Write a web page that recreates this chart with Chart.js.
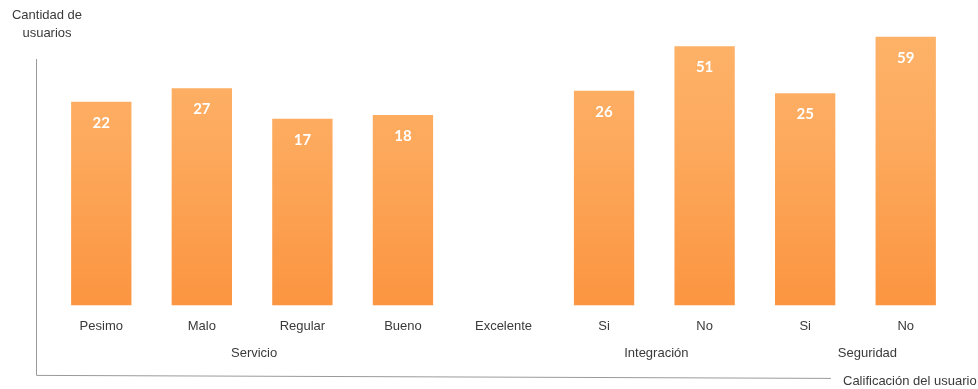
<!DOCTYPE html>
<html>
<head>
<meta charset="utf-8">
<script src="https://cdn.jsdelivr.net/npm/chart.js@4/dist/chart.umd.min.js"></script>
<style>
  html, body { margin: 0; padding: 0; background: #fff; }
  #wrap { width: 978px; height: 389px; position: relative; }
</style>
</head>
<body>
<div id="wrap"><canvas id="c" width="978" height="389"></canvas></div>
<script>
// Ratings per question
const categories = ['Pesimo', 'Malo', 'Regular', 'Bueno', 'Excelente', 'Si', 'No', 'Si', 'No'];
const usuarios   = [22, 27, 17, 18, null, 26, 51, 25, 59];

// Question groups: label and the first/last category index they span
const groupLabels = ['Servicio', 'Integración', 'Seguridad'];
const groupStart  = [0, 5, 7];
const groupEnd    = [3, 6, 8];

const yTitle = ['Cantidad de', 'usuarios'];
const xTitle = 'Calificación del usuario';

const textColor = '#3a3a3a';

function barGradient(ctx) {
  const chart = ctx.chart;
  const area = chart.chartArea;
  if (!area) return '#fca55a';
  const g = chart.ctx.createLinearGradient(0, area.top, 0, area.bottom);
  g.addColorStop(0, '#fdb56c');
  g.addColorStop(0.45, '#fdaa5e');
  g.addColorStop(1, '#fb9541');
  return g;
}

// Value labels inside the top of each bar
const valueLabels = {
  id: 'valueLabels',
  afterDatasetsDraw(chart) {
    const ctx = chart.ctx;
    const meta = chart.getDatasetMeta(0);
    ctx.save();
    ctx.fillStyle = '#ffffff';
    ctx.font = 'bold 15px Lato, "Open Sans", sans-serif';
    ctx.textAlign = 'center';
    ctx.textBaseline = 'middle';
    meta.data.forEach((bar, i) => {
      const v = usuarios[i];
      if (v == null) return;
      ctx.fillText(String(v), bar.x, bar.y + 21);
    });
    ctx.restore();
  }
};

// Group captions, axis frame lines and axis titles
const frame = {
  id: 'frame',
  afterDraw(chart) {
    const ctx = chart.ctx;
    const x = chart.scales.x;
    const a = chart.chartArea;
    ctx.save();
    ctx.fillStyle = textColor;
    ctx.font = '13px "Liberation Sans", Arial, sans-serif';
    ctx.textAlign = 'center';
    ctx.textBaseline = 'middle';
    groupLabels.forEach((g, i) => {
      const cx = (x.getPixelForValue(groupStart[i]) + x.getPixelForValue(groupEnd[i])) / 2;
      ctx.fillText(g, cx + (i === 2 ? 12 : 2), a.bottom + 48);
    });

    // frame lines
    ctx.strokeStyle = '#9a9a9a';
    ctx.lineWidth = 1;
    const lx = a.left - 14.5;
    ctx.beginPath();
    ctx.moveTo(lx, a.top + 57);
    ctx.lineTo(lx, a.bottom + 70);
    ctx.lineTo(a.left + 780, a.bottom + 73);
    ctx.stroke();

    // axis titles
    ctx.fillStyle = textColor;
    ctx.font = '13px "Liberation Sans", Arial, sans-serif';
    ctx.textAlign = 'center';
    ctx.fillText(yTitle[0], 47, 15);
    ctx.fillText(yTitle[1], 47, 33);
    ctx.textAlign = 'left';
    ctx.fillText(xTitle, 843, 381);
    ctx.restore();
  }
};

new Chart(document.getElementById('c'), {
  type: 'bar',
  data: {
    labels: categories,
    datasets: [{
      data: usuarios,
      backgroundColor: barGradient,
      borderWidth: 0,
      barPercentage: 0.6,
      categoryPercentage: 1.0
    }]
  },
  options: {
    responsive: false,
    animation: false,
    devicePixelRatio: 1,
    layout: { padding: { left: 51, right: 22, top: 2, bottom: 42 } },
    plugins: { legend: { display: false }, tooltip: { enabled: false } },
    scales: {
      x: {
        grid: { display: false, drawTicks: false },
        border: { display: false },
        ticks: {
          color: textColor,
          padding: 13,
          font: { family: '"Liberation Sans", Arial, sans-serif', size: 13 },
          maxRotation: 0,
          autoSkip: false
        }
      },
      y: {
        type: 'logarithmic',
        min: 1,
        max: 100,
        display: false
      }
    }
  },
  plugins: [valueLabels, frame]
});
</script>
</body>
</html>
